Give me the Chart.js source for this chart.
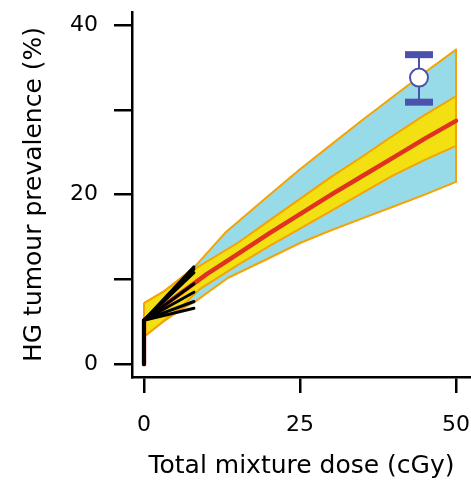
<!DOCTYPE html>
<html><head><meta charset="utf-8">
<script src="https://cdn.jsdelivr.net/npm/chart.js@4"></script>
<style>html,body{margin:0;padding:0;background:#fff;overflow:hidden}</style>
</head><body>
<canvas id="c" width="471" height="482"></canvas>
<script>
// ---- data ----
const xTicks = [0, 25, 50];
const yTicks = [0, 10, 20, 30, 40];
const yTickLabels = {0: '0', 20: '20', 40: '40'};

const blueUpperX = [0, 3, 8, 13, 20, 25, 30, 35, 40, 45, 50];
const blueUpperY = [7.2, 8.5, 11.4, 15.5, 19.9, 23.0, 25.9, 28.8, 31.6, 34.4, 37.1];
const blueLowerX = [0, 3, 6, 8, 13.5, 20, 25, 30, 35, 40, 45, 50];
const blueLowerY = [3.25, 5.0, 6.5, 7.3, 10.2, 12.5, 14.3, 15.8, 17.2, 18.6, 20.0, 21.5];

const yellowUpperX = [0, 3, 8, 15, 20, 25, 30, 35, 40, 45, 50];
const yellowUpperY = [7.2, 8.5, 11.2, 14.3, 16.9, 19.5, 22.1, 24.5, 27.0, 29.4, 31.6];
const yellowLowerX = [0, 3, 6, 9, 15, 20, 25, 30, 35, 40, 45, 50];
const yellowLowerY = [3.25, 5.0, 6.8, 8.9, 11.7, 13.9, 16.0, 18.1, 20.2, 22.3, 24.1, 25.75];

const redX = [0, 0, 5, 10, 15, 20, 25, 30, 35, 40, 45, 50];
const redY = [0, 5.2, 7.9, 10.6, 13.0, 15.4, 17.7, 20.0, 22.2, 24.4, 26.6, 28.7];

const fanX = [0, 0, 8];
const fanStartY = [0, 5.2];
const fanEndY = [11.5, 11.2, 10.8, 9.5, 8.5, 7.4, 6.6];

const obsX = 44.07, obsY = 33.8, obsLo = 30.9, obsHi = 36.5;

// ---- helpers ----
const pts = (xs, ys) => xs.map((x, i) => ({x, y: ys[i]}));
function band(ux, uy, lx, ly) {
  const up = pts(ux, uy), lo = pts(lx, ly).reverse();
  return up.concat(lo, [up[0]]);
}

const ORANGE = '#f5a300', BLUE = '#98dbe8', YELLOW = '#f3e012', RED = '#e0321e', OBS = '#4a52ad';
const FONT = 'DejaVu Sans';

const datasets = [
  {data: band(blueUpperX, blueUpperY, blueLowerX, blueLowerY), fill: 'shape', backgroundColor: BLUE,
   borderColor: ORANGE, borderWidth: 2, pointRadius: 0, order: 10, borderJoinStyle: 'round'},
  {data: band(yellowUpperX, yellowUpperY, yellowLowerX, yellowLowerY), fill: 'shape', backgroundColor: YELLOW,
   borderColor: ORANGE, borderWidth: 2, pointRadius: 0, order: 9, borderJoinStyle: 'round'},
  {data: pts(redX, redY), borderColor: RED, borderWidth: 4.5, pointRadius: 0, fill: false, order: 8,
   borderCapStyle: 'round', borderJoinStyle: 'round'}
];
fanEndY.forEach(ey => {
  datasets.push({data: pts(fanX, fanStartY.concat([ey])), borderColor: '#000', borderWidth: 3, pointRadius: 0,
    fill: false, order: 7, borderCapStyle: 'round', borderJoinStyle: 'round'});
});
datasets.push({data: [{x: obsX, y: obsLo}, {x: obsX, y: obsHi}], borderColor: OBS, borderWidth: 2,
  pointRadius: 0, fill: false, order: 3});
datasets.push({data: [{x: obsX, y: obsLo}, {x: obsX, y: obsHi}], showLine: false, pointStyle: 'line',
  pointRadius: 14, pointBorderWidth: 7, pointBorderColor: OBS, borderColor: OBS, order: 2});
datasets.push({data: [{x: obsX, y: obsY}], showLine: false, pointStyle: 'circle', pointRadius: 9,
  pointBorderWidth: 2, pointBorderColor: OBS, pointBackgroundColor: '#fff', order: 1});

new Chart(document.getElementById('c'), {
  type: 'line',
  data: {datasets},
  options: {
    responsive: false, animation: false, devicePixelRatio: 1,
    layout: {autoPadding: false, padding: {top: 12, right: 0, left: 0, bottom: 0}},
    plugins: {legend: {display: false}, tooltip: {enabled: false}},
    elements: {line: {tension: 0}},
    scales: {
      x: {
        type: 'linear', min: -1.923, max: 52.404,
        afterBuildTicks: s => { s.ticks = xTicks.map(v => ({value: v})); },
        afterFit: s => { s.height = 105; s.paddingLeft = 0; s.paddingRight = 0; },
        ticks: {font: {family: FONT, size: 22}, color: '#000', padding: 19, maxRotation: 0, autoSkip: false},
        grid: {drawOnChartArea: false, drawTicks: true, tickLength: 16, lineWidth: 2.5, color: '#000'},
        border: {display: true, color: '#000', width: 2.5},
        title: {display: true, text: 'Total mixture dose (cGy)', font: {family: FONT, size: 25}, color: '#000',
          padding: {top: 0, bottom: 0.5}}
      },
      y: {
        type: 'linear', min: -1.497, max: 41.53,
        afterBuildTicks: s => { s.ticks = yTicks.map(v => ({value: v})); },
        afterFit: s => { s.width = 132; s.paddingTop = 0; s.paddingBottom = 0; },
        ticks: {font: {family: FONT, size: 22}, color: '#000', padding: 16, autoSkip: false,
          callback: v => (yTickLabels[v] !== undefined ? yTickLabels[v] : '')},
        grid: {drawOnChartArea: false, drawTicks: true, tickLength: 18, lineWidth: 2.5, color: '#000'},
        border: {display: true, color: '#000', width: 2.5},
        title: {display: true, text: 'HG tumour prevalence (%)', font: {family: FONT, size: 25}, color: '#000',
          padding: {top: 19, bottom: 0}}
      }
    }
  }
});
</script>
</body></html>
